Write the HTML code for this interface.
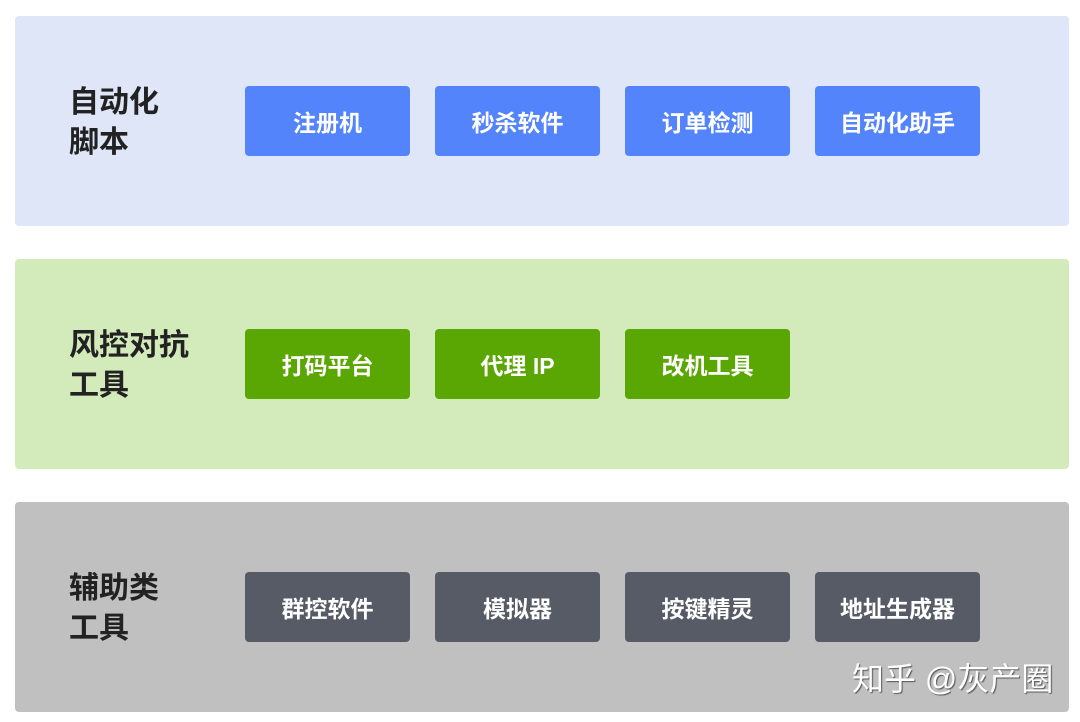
<!DOCTYPE html>
<html><head><meta charset="utf-8"><style>
body{margin:0;width:1080px;height:722px;background:#fff;position:relative;overflow:hidden;font-family:"Liberation Sans","Noto Sans CJK SC",sans-serif;}
.p{position:absolute;left:15px;width:1054px;height:210px;border-radius:4px;}
.l{position:absolute;left:69px;font-size:30px;font-weight:bold;color:#222;line-height:40px;}
.b{position:absolute;width:165px;height:70px;border-radius:4px;color:#fff;font-size:23px;font-weight:bold;display:flex;align-items:center;justify-content:center;}
.wm{position:absolute;left:852px;top:654px;font-size:32px;color:#fff;text-shadow:1px 1px 1px #555;}
</style></head><body>
<div class="p" style="top:16px;background:#dee6f7"></div>
<div class="p" style="top:259px;background:#d3ebbb"></div>
<div class="p" style="top:502px;background:#c0c0c0"></div>
<div class="l" style="top:83px">自动化<br>脚本</div>
<div class="l" style="top:326px">风控对抗<br>工具</div>
<div class="l" style="top:569px">辅助类<br>工具</div>
<div class="b" style="left:245px;top:86px;background:#5484fb">注册机</div>
<div class="b" style="left:435px;top:86px;background:#5484fb">秒杀软件</div>
<div class="b" style="left:625px;top:86px;background:#5484fb">订单检测</div>
<div class="b" style="left:815px;top:86px;background:#5484fb">自动化助手</div>
<div class="b" style="left:245px;top:329px;background:#5aa603">打码平台</div>
<div class="b" style="left:435px;top:329px;background:#5aa603">代理 IP</div>
<div class="b" style="left:625px;top:329px;background:#5aa603">改机工具</div>
<div class="b" style="left:245px;top:572px;background:#575b66">群控软件</div>
<div class="b" style="left:435px;top:572px;background:#575b66">模拟器</div>
<div class="b" style="left:625px;top:572px;background:#575b66">按键精灵</div>
<div class="b" style="left:815px;top:572px;background:#575b66">地址生成器</div>
<div class="wm">知乎 @灰产圈</div>
</body></html>
